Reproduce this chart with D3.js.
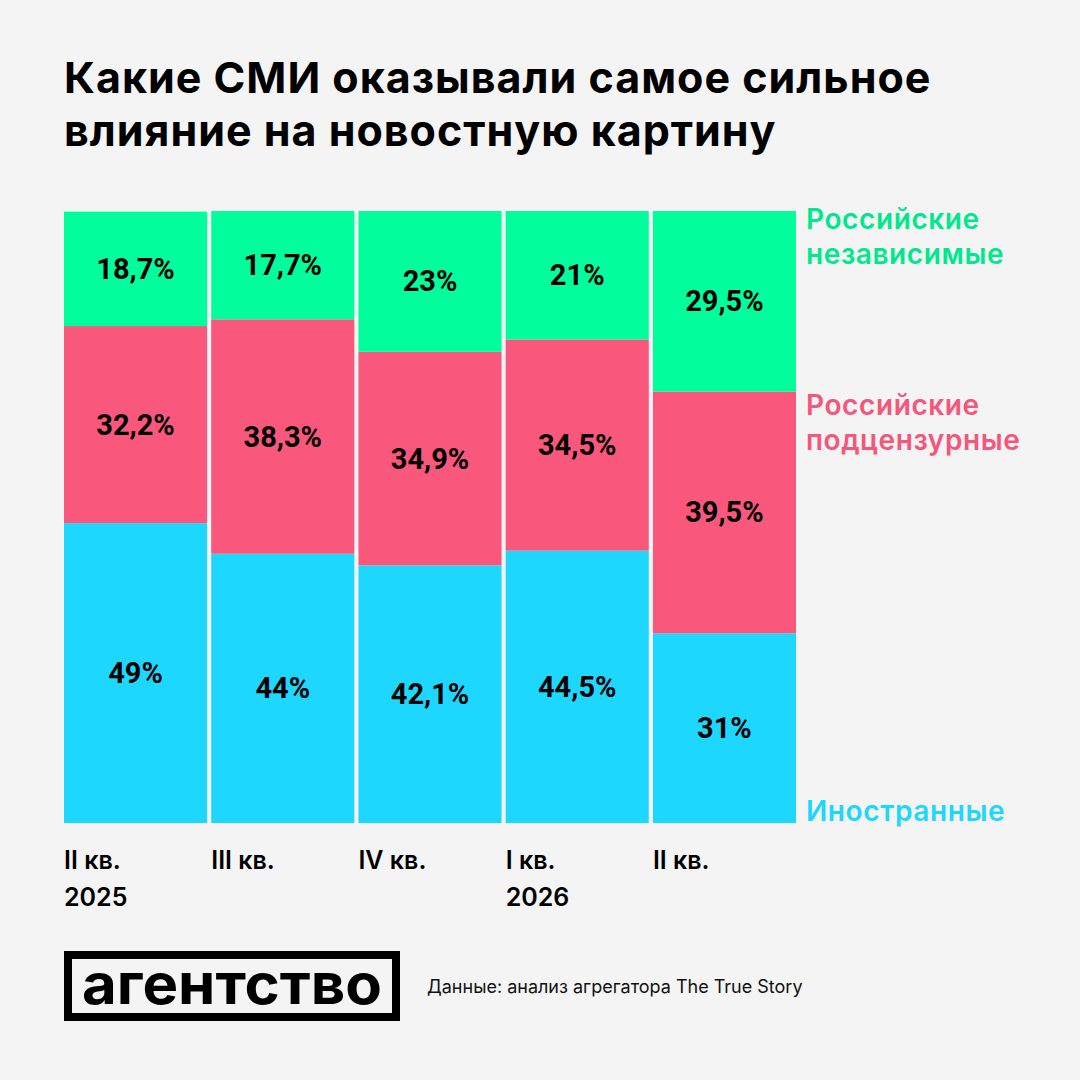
<!DOCTYPE html>
<html>
<head>
<meta charset="utf-8">
<script src="https://cdn.jsdelivr.net/npm/d3@7"></script>
<style>
  html, body { margin: 0; padding: 0; background: #f4f4f4; }
  svg { display: block; }
</style>
</head>
<body>
<div id="chart"></div>
<script>
/*** DATA ***/
var quarters = ['II кв.', 'III кв.', 'IV кв.', 'I кв.', 'II кв. '];
var years = ['2025', '', '', '2026', ''];
var seriesNames = ['Иностранные', 'Российские подцензурные', 'Российские независимые'];
var foreignVals = [49, 44, 42.1, 44.5, 31];
var censoredVals = [32.2, 38.3, 34.9, 34.5, 39.5];
var independentVals = [18.7, 17.7, 23, 21, 29.5];
var title = ['Какие СМИ оказывали самое сильное', 'влияние на новостную картину'];
var source = 'Данные: анализ агрегатора The True Story';

var colors = ['#1dd7ff', '#f9577b', '#00ff9c'];
var textColors = ['#1dd7ff', '#f5577c', '#00e88e'];
var legendLines = [['Иностранные'], ['Российские', 'подцензурные'], ['Российские', 'независимые']];

var width = 1080, height = 1080;
var svg = d3.select('#chart').append('svg')
  .attr('width', width)
  .attr('height', height);

svg.append('rect')
  .attr('width', width)
  .attr('height', height)
  .attr('fill', '#f4f4f4');

//title
svg.append('text')
  .attr('x', 64)
  .attr('y', 93)
  .style('font-family', 'Inter')
  .style('font-weight', 700)
  .style('font-size', '43px')
  .style('letter-spacing', '1px')
  .attr('fill', '#000')
  .selectAll('tspan')
  .data(title)
  .enter().append('tspan')
    .attr('x', 64)
    .attr('dy', function(d, i) { return i == 0 ? 0 : 53; })
    .text(function(d) { return d; });

//stack
var table = quarters.map(function(q, i) {
  return { q: q, v0: foreignVals[i], v1: censoredVals[i], v2: independentVals[i] };
});
var stack = d3.stack().keys(['v0', 'v1', 'v2']);
var layers = stack(table);

var x = d3.scaleBand()
  .domain(quarters)
  .range([64, 796])
  .paddingInner(0.028);

var y = d3.scaleLinear()
  .domain([0, 100])
  .range([823, 211]);

var fmt = function(v) {
  return String(+v.toFixed(1)).replace('.', ',') + '%';
};

var g = svg.append('g').attr('class', 'bars');

layers.forEach(function(layer, li) {
  var lg = g.append('g');
  lg.selectAll('rect')
    .data(layer)
    .enter().append('rect')
      .attr('x', function(d) { return x(d.data.q); })
      .attr('width', x.bandwidth())
      .attr('y', function(d) { return y(d[1]); })
      .attr('height', function(d) { return y(d[0]) - y(d[1]); })
      .attr('fill', colors[li]);

  lg.selectAll('text')
    .data(layer)
    .enter().append('text')
      .attr('x', function(d) { return x(d.data.q) + x.bandwidth() / 2; })
      .attr('y', function(d) { return (y(d[0]) + y(d[1])) / 2 + 10; })
      .attr('text-anchor', 'middle')
      .style('font-family', 'Roboto')
      .style('font-weight', 700)
      .style('font-size', '29px')
      .attr('fill', '#000')
      .text(function(d) { return fmt(d[1] - d[0]); });
});

//legend on the right
var legendY = [821, 415, 229];
legendLines.forEach(function(lines, i) {
  var t = svg.append('text')
    .attr('x', 806)
    .attr('y', legendY[i])
    .style('font-family', 'Inter')
    .style('font-weight', 600)
    .style('font-size', '28px')
    .style('letter-spacing', '0.6px')
    .attr('fill', textColors[i]);
  lines.forEach(function(l, j) {
    t.append('tspan')
      .attr('x', 806)
      .attr('dy', j == 0 ? 0 : 35)
      .text(l);
  });
});

//x labels
var xl = svg.append('g').attr('class', 'x-labels');
table.forEach(function(d, i) {
  var t = xl.append('text')
    .attr('x', x(d.q))
    .attr('y', 869)
    .style('font-family', 'Inter')
    .style('font-weight', 600)
    .style('font-size', '25px')
    .attr('fill', '#000');
  t.append('tspan').attr('x', x(d.q)).text(d.q.trim());
  if (years[i] != '')
    t.append('tspan').attr('x', x(d.q)).attr('dy', 37).text(years[i]);
});

//logo
svg.append('rect')
  .attr('x', 68)
  .attr('y', 955)
  .attr('width', 328)
  .attr('height', 62)
  .attr('fill', 'none')
  .attr('stroke', '#000')
  .attr('stroke-width', 8);

svg.append('text')
  .attr('x', 82)
  .attr('y', 1004)
  .attr('textLength', 300)
  .attr('lengthAdjust', 'spacingAndGlyphs')
  .style('font-family', 'Inter')
  .style('font-weight', 700)
  .style('font-size', '56px')
  .attr('fill', '#000')
  .text('агентство');

//source
svg.append('text')
  .attr('x', 427)
  .attr('y', 993)
  .style('font-family', 'Inter')
  .style('font-weight', 400)
  .style('font-size', '18px')
  .attr('fill', '#111')
  .text(source);
</script>
</body>
</html>
